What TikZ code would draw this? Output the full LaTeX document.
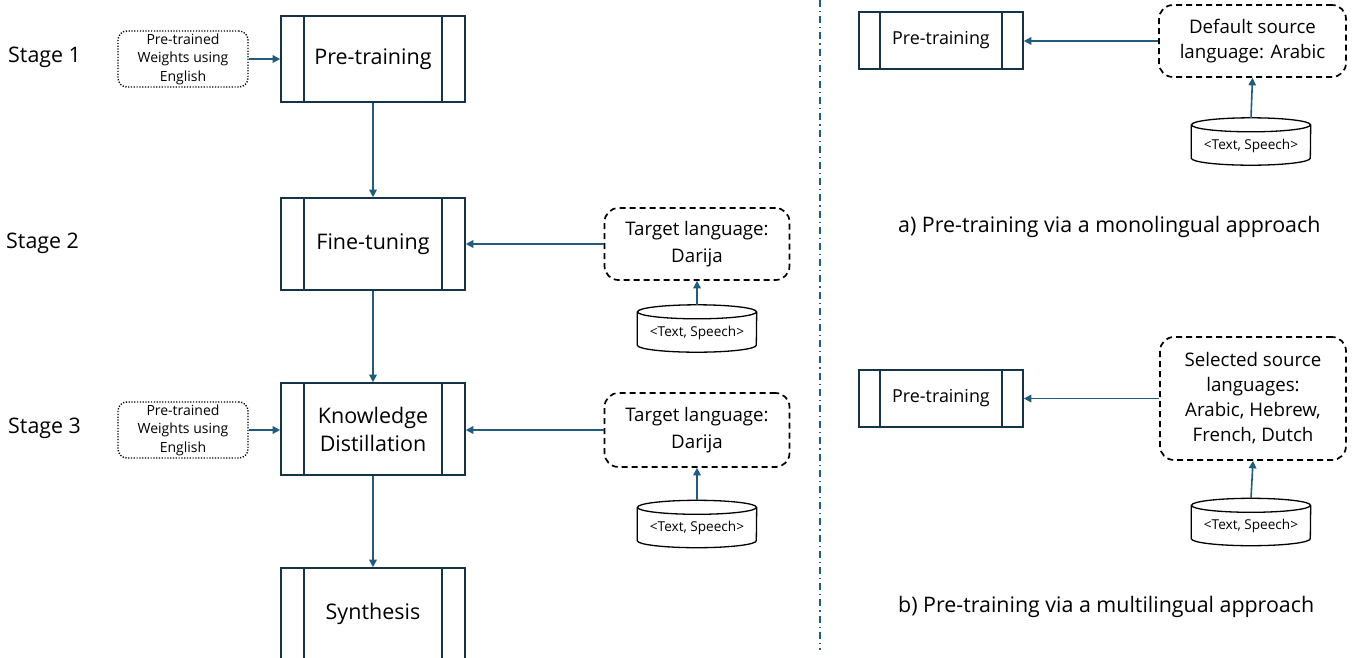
\documentclass[tikz,border=0pt]{standalone}
\usepackage{fontspec}
\setmainfont{Open Sans}
\usetikzlibrary{arrows.meta}
\definecolor{boxc}{RGB}{22,52,72}
\definecolor{arr}{RGB}{32,92,128}
\tikzset{
  proc/.style={draw=boxc, line width=1.6pt, rectangle, inner sep=0pt, align=center,
    path picture={\draw[boxc, line width=1.3pt]
      ([xshift=#1]path picture bounding box.north west) -- ([xshift=#1]path picture bounding box.south west)
      ([xshift=-#1]path picture bounding box.north east) -- ([xshift=-#1]path picture bounding box.south east);}},
  bigproc/.style={proc=23pt, minimum width=184pt, font=\fontsize{21.5}{28}\selectfont},
  smallproc/.style={proc=21pt, minimum width=164pt, minimum height=57pt, font=\fontsize{17.9}{22}\selectfont},
  dotbox/.style={draw=black, line width=1.4pt, dash pattern=on 1.2pt off 1.6pt, rounded corners=9pt,
    minimum width=130pt, minimum height=56pt, inner sep=0pt, align=center, font=\fontsize{14}{18.5}\selectfont},
  dashbox/.style={draw=black, line width=1.7pt, dash pattern=on 6pt off 4pt, rounded corners=14pt,
    inner sep=0pt, align=center, font=\fontsize{18.7}{25}\selectfont},
  dbase/.style={minimum width=119pt, minimum height=47pt, inner sep=0pt, font=\fontsize{13.6}{16}\selectfont},
  conn/.style={draw=arr, line width=1.6pt, -{Triangle[length=7.5pt,width=7.5pt]}},
  stagelbl/.style={anchor=west, inner sep=0pt, font=\fontsize{21.4}{25}\selectfont},
  caption/.style={anchor=west, inner sep=0pt, font=\fontsize{21.4}{25}\selectfont},
}
\newcommand{\drawdb}[1]{%
  \draw[line width=1.3pt] ([yshift=-7pt]#1.north) ellipse [x radius=59.5pt, y radius=7pt];
  \draw[line width=1.3pt] ([yshift=-7pt]#1.north west) -- ([yshift=7pt]#1.south west)
     arc[start angle=180, end angle=360, x radius=59.5pt, y radius=7pt] -- ([yshift=-7pt]#1.north east);
}
\begin{document}
\begin{tikzpicture}[x=1pt,y=1pt]
\useasboundingbox (0,0) rectangle (1353,-657);
\clip (0,0) rectangle (1353,-657);
\fill[white] (0,0) rectangle (1353,-657);

% stage labels
\node[stagelbl] (s1) at (8,-57) {Stage 1};
\node[stagelbl] (s2) at (6,-243) {Stage 2};
\node[stagelbl] (s3) at (8,-428) {Stage 3};

% main column
\node[bigproc, minimum height=86pt] (pt) at (373,-59) {Pre-training};
\node[bigproc, minimum height=92pt] (ft) at (373,-244) {Fine-tuning};
\node[bigproc, minimum height=92pt] (kd) at (373,-429) {Knowledge\\Distillation};
\node[bigproc, minimum height=92pt] (sy) at (373,-614) {Synthesis};

\node[dotbox] (w1) at (183,-59) {Pre-trained\\Weights using\\English};
\node[dotbox] (w2) at (183,-430) {Pre-trained\\Weights using\\English};

\node[dashbox, minimum width=185pt, minimum height=72pt, font=\fontsize{18.7}{27}\selectfont] (t1) at (697,-244) {Target language:\\Darija};
\node[dashbox, minimum width=185pt, minimum height=74pt, font=\fontsize{18.7}{27}\selectfont] (t2) at (697,-430) {Target language:\\Darija};

\node[dbase] (d1) at (697,-328.5) {};
\drawdb{d1}
\node[dbase] at ([yshift=-4pt]d1.center) {<Text, Speech>};
\node[dbase] (d2) at (697,-524) {};
\drawdb{d2}
\node[dbase] at ([yshift=-4pt]d2.center) {<Text, Speech>};

\draw[conn] (w1.east) -- (w1.east -| pt.west);
\draw[conn] (w2.east) -- (w2.east -| kd.west);
\draw[conn] (pt) -- (ft);
\draw[conn] (ft) -- (kd);
\draw[conn] (kd) -- (sy);
\draw[conn] (t1.west) -- (t1.west -| ft.east);
\draw[conn] (t2.west) -- (t2.west -| kd.east);
\draw[conn] (d1.north) -- (t1.south);
\draw[conn] (d2.north) -- (t2.south);

% divider
\coordinate (dvtop) at (820,0);
\coordinate (dvbot) at (820,-650);
\draw[arr, line width=1.3pt, dash pattern=on 7pt off 4pt on 1.2pt off 4pt] (dvtop) -- (dvbot);

% right (a)
\node[smallproc] (pa) at (941,-40.5) {Pre-training};
\node[dashbox, minimum width=187pt, minimum height=72pt] (sa) at (1252.5,-41) {Default source\\language: Arabic};
\node[dbase] (da) at (1251,-141.5) {};
\drawdb{da}
\node[dbase] at ([yshift=-4pt]da.center) {<Text, Speech>};
\draw[conn] (sa.west) -- (sa.west -| pa.east);
\draw[conn] (da.north) -- (sa.south);
\node[caption] (ca) at (898,-227) {a) Pre-training via a monolingual approach};

% right (b)
\node[smallproc] (pb) at (941,-398.5) {Pre-training};
\node[dashbox, minimum width=186pt, minimum height=123pt] (sb) at (1253,-398.5) {Selected source\\languages:\\Arabic, Hebrew,\\French, Dutch};
\node[dbase] (db) at (1251,-522) {};
\drawdb{db}
\node[dbase] at ([yshift=-4pt]db.center) {<Text, Speech>};
\draw[conn] (sb.west) -- (sb.west -| pb.east);
\draw[conn] (db.north) -- (sb.south);
\node[caption] (cb) at (898,-607) {b) Pre-training via a multilingual approach};
\end{tikzpicture}
\end{document}
